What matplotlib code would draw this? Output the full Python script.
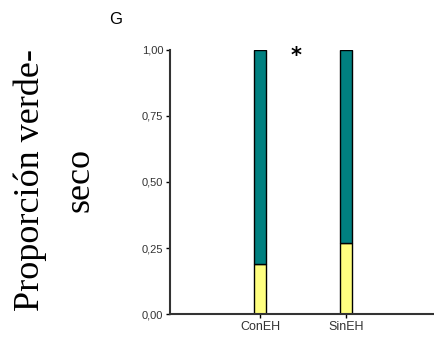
import numpy as np
import matplotlib.pyplot as plt

grupos = ['ConEH', 'SinEH']
seco = [0.19, 0.27]
verde = [0.81, 0.73]
yticks = [0.0, 0.25, 0.5, 0.75, 1.0]
ytick_labels = ['0,00', '0,25', '0,50', '0,75', '1,00']

fig = plt.figure(figsize=(4.35, 3.37), dpi=100)
ax = fig.add_axes([0.391, 0.068, 0.609, 0.784])

x = np.arange(len(grupos))
ax.bar(x, seco, width=0.13, color='#ffff80', edgecolor='black', linewidth=1)
ax.bar(x, verde, width=0.13, bottom=seco, color='#008080', edgecolor='black', linewidth=1)

ax.set_xlim(-1.047, 2.035)
ax.set_ylim(0, 1)
ax.set_xticks(x)
ax.set_xticklabels(grupos, fontsize=9, color='#333333', family='Liberation Sans')
ax.set_yticks(yticks)
ax.set_yticklabels(ytick_labels, fontsize=8, color='#333333', family='Liberation Sans')
ax.tick_params(length=3, width=1, pad=2)

for s in ['top', 'right']:
    ax.spines[s].set_visible(False)
for s in ['left', 'bottom']:
    ax.spines[s].set_linewidth(1.5)
    ax.spines[s].set_color('#333333')

ax.text(0.42, 0.975, '*', fontsize=15, fontweight='bold', ha='center', va='center', transform=ax.transData)

fig.text(116 / 435, 1 - 20 / 337, 'G', fontsize=12, ha='center', va='center', family='Liberation Sans')
fig.text(30 / 435, 1 - 180 / 337, 'Proporción verde-', fontsize=26, rotation=90,
         ha='center', va='center', family='Liberation Serif')
fig.text(80 / 435, 1 - 180 / 337, 'seco', fontsize=26, rotation=90,
         ha='center', va='center', family='Liberation Serif')

fig.savefig('out.png', dpi=100)
